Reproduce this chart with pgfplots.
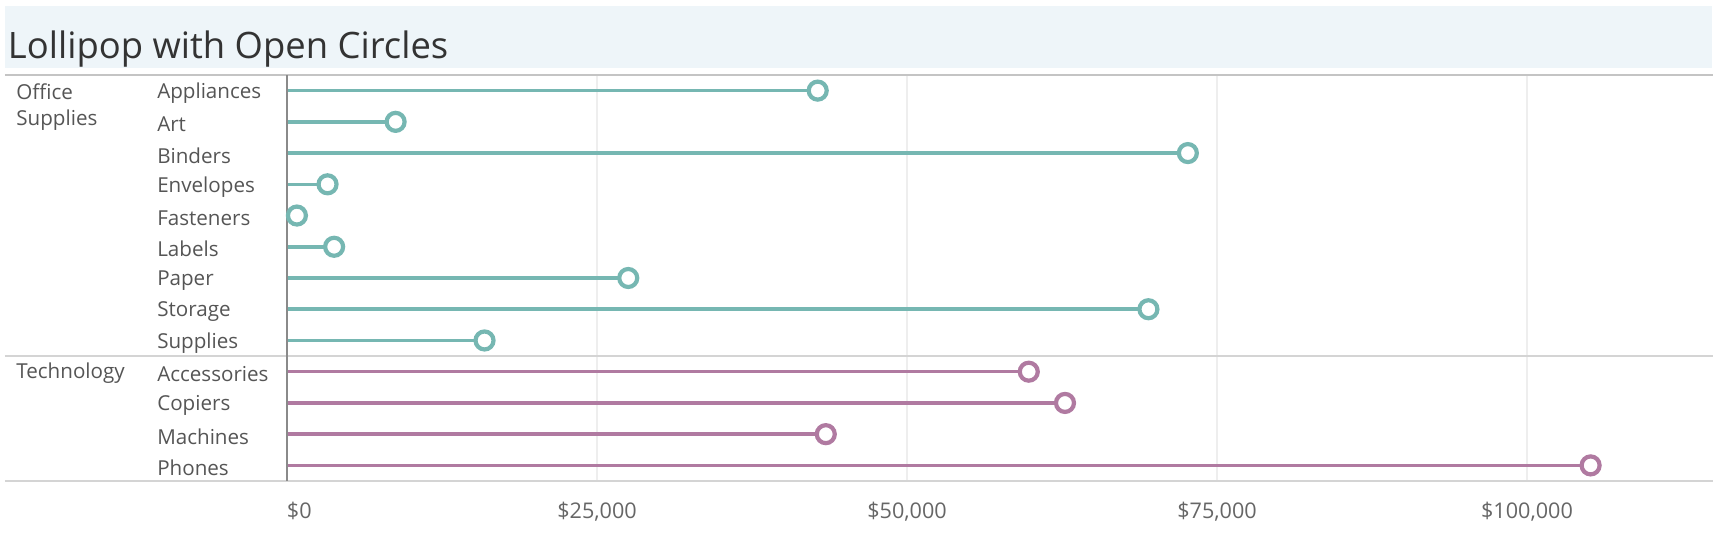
\documentclass[border=0pt]{standalone}
\usepackage{pgfplots}
\pgfplotsset{compat=1.18}
\usepackage{fontspec}
\setmainfont{Open Sans}
\definecolor{teal1}{HTML}{76B7B2}
\definecolor{purp1}{HTML}{B07AA1}
\definecolor{band}{HTML}{EEF5F9}
\definecolor{lab}{HTML}{555555}
\definecolor{tickc}{HTML}{666666}
\definecolor{titlec}{HTML}{333333}
\definecolor{sep}{HTML}{C4C4C4}
\definecolor{sep2}{HTML}{D4D4D4}
\definecolor{gridc}{HTML}{EEEEEE}
\definecolor{axc}{HTML}{8A8A8A}
\pgfplotstableread{
i v
0 42800
1 8760
2 72650
3 3270
4 800
5 3800
6 27520
7 69470
8 15930
}\office
\pgfplotstableread{
i v
9 59820
10 62740
11 43450
12 105130
}\tech
\begin{document}
\begin{tikzpicture}
\begin{axis}[name=ax, scale only axis, width=713pt, height=203pt,
 xmin=0, xmax=115000, ymin=-0.5, ymax=12.5, y dir=reverse,
 axis line style={draw=none}, major tick length=0pt,
 xtick={0,25000,50000,75000,100000},
 xticklabels={\makebox[0pt][l]{\$0},{\$25,000},{\$50,000},{\$75,000},{\$100,000}},
 xmajorgrids, grid style={gridc, line width=0.6pt},
 ytick={0,...,12},
 yticklabels={Appliances,Art,Binders,Envelopes,Fasteners,Labels,Paper,Storage,Supplies,Accessories,Copiers,Machines,Phones},
 yticklabel style={anchor=west, xshift=-68.4pt, yshift=-1.2pt, font=\fontsize{10.3}{12}\selectfont, text=lab},
 xticklabel style={anchor=base, yshift=-18.9pt, font=\fontsize{10.8}{12}\selectfont, text=tickc},
 clip=false,
]
\addplot[teal1, line width=1.8pt, xcomb, mark=*, mark size=4.5pt, mark options={fill=white, draw=teal1, line width=2.1pt}] table[x=v,y=i] {\office};
\addplot[purp1, line width=1.8pt, xcomb, mark=*, mark size=4.5pt, mark options={fill=white, draw=purp1, line width=2.1pt}] table[x=v,y=i] {\tech};
\draw[sep, line width=1pt] ([xshift=-141pt]axis cs:0,-0.5) -- (axis cs:115000,-0.5);
\draw[sep2, line width=0.8pt] ([xshift=-141pt]axis cs:0,8.5) -- (axis cs:115000,8.5);
\draw[sep2, line width=0.8pt] ([xshift=-141pt]axis cs:0,12.5) -- (axis cs:115000,12.5);
\draw[axc, line width=0.6pt] (axis cs:0,-0.5) -- (axis cs:0,12.5);
\node[anchor=west, inner sep=0pt, font=\fontsize{10.3}{12}\selectfont, text=lab] at ([xshift=-135.5pt, yshift=-0.8pt]axis cs:0,0) {Office};
\node[anchor=west, inner sep=0pt, font=\fontsize{10.3}{12}\selectfont, text=lab] at ([xshift=-135.5pt, yshift=-0.8pt]axis cs:0,0.9) {Supplies};
\node[anchor=west, inner sep=0pt, font=\fontsize{10.3}{12}\selectfont, text=lab] at ([xshift=-135.5pt, yshift=-0.8pt]axis cs:0,9) {Technology};
\end{axis}
\fill[band] ([xshift=-141pt, yshift=3.5pt]ax.north west) rectangle ([xshift=-0.5pt, yshift=34.5pt]ax.north east);
\node[anchor=base west, inner sep=0pt, font=\fontsize{18.2}{20}\selectfont, text=titlec] at ([xshift=-139.7pt, yshift=8pt]ax.north west) {Lollipop with Open Circles};
\pgfresetboundingbox
\path[use as bounding box] ([xshift=-143.5pt, yshift=-27pt]ax.south west) rectangle ([xshift=4.5pt, yshift=37.5pt]ax.north east);
\end{tikzpicture}
\end{document}
